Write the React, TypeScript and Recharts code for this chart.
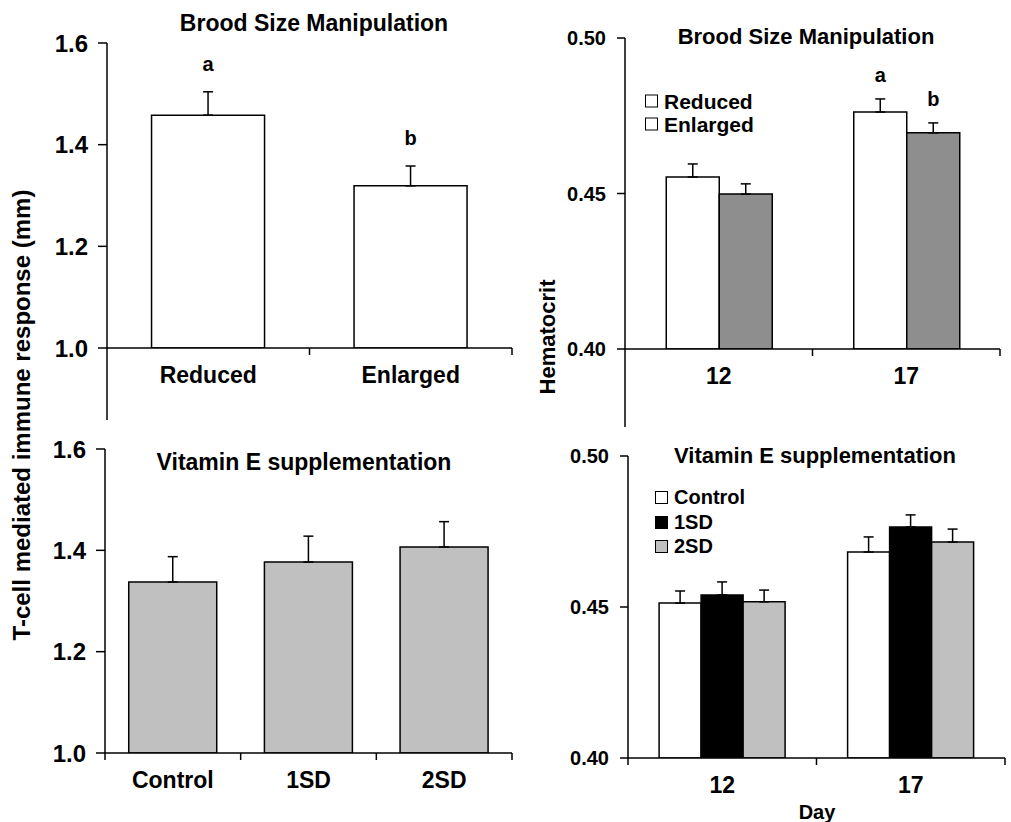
import React from "react";
import { BarChart, Bar, XAxis, YAxis, ErrorBar, LabelList } from "recharts";

const FONT = '"Liberation Sans", Arial, Helvetica, sans-serif';

// Brood size manipulation - T-cell response
const broodCats = ["Reduced", "Enlarged"];
const broodTcell = [1.458, 1.319];
const broodTcellErr = [0.046, 0.039];
const broodTcellSig = ["a", "b"];

// Brood size manipulation - hematocrit by day
const days = ["12", "17"];
const hctReduced = [0.4553, 0.4762];
const hctReducedErr = [0.0042, 0.0042];
const hctReducedSig = ["", "a"];
const hctEnlarged = [0.4498, 0.4695];
const hctEnlargedErr = [0.0033, 0.0032];
const hctEnlargedSig = ["", "b"];

// Vitamin E supplementation - T-cell response
const vitCats = ["Control", "1SD", "2SD"];
const vitTcell = [1.3375, 1.377, 1.4066];
const vitTcellErr = [0.05, 0.051, 0.05];

// Vitamin E supplementation - hematocrit by day
const vitHctControl = [0.4513, 0.4682];
const vitHctControlErr = [0.004, 0.005];
const vitHct1SD = [0.454, 0.4765];
const vitHct1SDErr = [0.0043, 0.004];
const vitHct2SD = [0.4517, 0.4715];
const vitHct2SDErr = [0.0039, 0.0043];

const tcellTicks = [1.0, 1.2, 1.4, 1.6];
const hctTicks = [0.4, 0.45, 0.5];

const Y_W = 100;
const M_TOP = 20;
const M_RIGHT = 15;
const X_H = 90;

type Series = {
  key: string;
  errKey: string;
  sigKey?: string;
  fill: string;
  errs: number[];
};

type PanelProps = {
  rows: any[];
  series: Series[];
  domain: [number, number];
  ticks: number[];
  fmt: (v: number) => string;
  left: number;
  top: number;
  plotW: number;
  plotH: number;
  gap: string;
  yFont: number;
  tickLen: number;
  tickMargin: number;
  axisExt: number;
  sigGap: number;
};

const makeTick = (n: number, plotW: number, plotBottom: number, firstLen: number) => (props: any) => {
  const { x, payload, index } = props;
  const half = plotW / n / 2;
  return (
    <g>
      <line
        x1={x - half}
        y1={plotBottom}
        x2={x - half}
        y2={plotBottom + (index === 0 ? firstLen : 7)}
        stroke="#000"
        strokeWidth={1.5}
      />
      {index === n - 1 && (
        <line x1={x + half} y1={plotBottom} x2={x + half} y2={plotBottom + 7} stroke="#000" strokeWidth={1.5} />
      )}
      <text
        x={x}
        y={plotBottom + 27}
        textAnchor="middle"
        dominantBaseline="central"
        fontFamily={FONT}
        fontWeight="bold"
        fontSize={23}
        fill="#000"
      >
        {payload.value}
      </text>
    </g>
  );
};

const makeSig = (errs: number[], pxPerUnit: number, gap: number) => (props: any) => {
  const vb = props.viewBox || {};
  const x = props.x ?? vb.x;
  const y = props.y ?? vb.y;
  const width = props.width ?? vb.width;
  const { value, index } = props;
  if (!value) return null;
  return (
    <text
      x={x + width / 2}
      y={y - errs[index] * pxPerUnit - gap}
      textAnchor="middle"
      dominantBaseline="central"
      fontFamily={FONT}
      fontWeight="bold"
      fontSize={20}
      fill="#000"
    >
      {value}
    </text>
  );
};

const Panel = (p: PanelProps) => {
  const plotBottom = M_TOP + p.plotH;
  const pxPerUnit = p.plotH / (p.domain[1] - p.domain[0]);
  return (
    <div style={{ position: "absolute", left: p.left - Y_W, top: p.top - M_TOP }}>
      <BarChart
        width={Y_W + p.plotW + M_RIGHT}
        height={M_TOP + p.plotH + X_H}
        data={p.rows}
        margin={{ top: M_TOP, right: M_RIGHT, left: 0, bottom: 0 }}
        barCategoryGap={p.gap}
        barGap={0}
      >
        <XAxis
          dataKey="cat"
          height={X_H}
          interval={0}
          tickLine={false}
          axisLine={{ stroke: "#000", strokeWidth: 1.5 }}
          tick={makeTick(p.rows.length, p.plotW, plotBottom, p.axisExt)}
        />
        <YAxis
          type="number"
          width={Y_W}
          domain={p.domain}
          ticks={p.ticks}
          interval={0}
          allowDataOverflow
          tickFormatter={p.fmt}
          tickSize={p.tickLen}
          tickMargin={p.tickMargin}
          axisLine={{ stroke: "#000", strokeWidth: 1.5 }}
          tickLine={{ stroke: "#000", strokeWidth: 1.5 }}
          tick={{ fontSize: p.yFont, fontWeight: "bold", fill: "#000", fontFamily: FONT }}
        />
        {p.series.map((s) => (
          <Bar key={s.key} dataKey={s.key} fill={s.fill} stroke="#000" strokeWidth={1.5} isAnimationActive={false}>
            <ErrorBar dataKey={s.errKey} width={5} stroke="#000" strokeWidth={1.5} direction="y" />
            {s.sigKey && <LabelList dataKey={s.sigKey} content={makeSig(s.errs, pxPerUnit, p.sigGap)} />}
          </Bar>
        ))}
      </BarChart>
    </div>
  );
};

const broodTcellRows = broodCats.map((c, i) => ({
  cat: c,
  v: broodTcell[i],
  e: [0, broodTcellErr[i]],
  s: broodTcellSig[i],
}));

const broodHctRows = days.map((d, i) => ({
  cat: d,
  red: hctReduced[i],
  redE: [0, hctReducedErr[i]],
  redS: hctReducedSig[i],
  enl: hctEnlarged[i],
  enlE: [0, hctEnlargedErr[i]],
  enlS: hctEnlargedSig[i],
}));

const vitTcellRows = vitCats.map((c, i) => ({
  cat: c,
  v: vitTcell[i],
  e: [0, vitTcellErr[i]],
}));

const vitHctRows = days.map((d, i) => ({
  cat: d,
  ctl: vitHctControl[i],
  ctlE: [0, vitHctControlErr[i]],
  sd1: vitHct1SD[i],
  sd1E: [0, vitHct1SDErr[i]],
  sd2: vitHct2SD[i],
  sd2E: [0, vitHct2SDErr[i]],
}));

const fmt1 = (v: number) => v.toFixed(1);
const fmt2 = (v: number) => v.toFixed(2);

const Txt = ({ x, y, size, children, rotate }: any) => (
  <div
    style={{
      position: "absolute",
      left: x,
      top: y,
      transform: `translate(-50%, -50%)${rotate ? " rotate(-90deg)" : ""}`,
      whiteSpace: "nowrap",
      fontSize: size,
      fontWeight: "bold",
      lineHeight: 1,
      fontFamily: FONT,
      color: "#000",
    }}
  >
    {children}
  </div>
);

const LegendItem = ({ x, y, fill, label, size }: any) => (
  <div
    style={{
      position: "absolute",
      left: x,
      top: y,
      transform: "translateY(-50%)",
      display: "flex",
      alignItems: "center",
      fontFamily: FONT,
      fontWeight: "bold",
      fontSize: size,
      lineHeight: 1,
      whiteSpace: "nowrap",
    }}
  >
    <span
      style={{
        display: "inline-block",
        width: 11,
        height: 11,
        border: "1.5px solid #000",
        background: fill,
        marginRight: 6,
      }}
    />
    {label}
  </div>
);

export default function App() {
  return (
    <div style={{ position: "relative", width: 1011, height: 822, background: "#fff", overflow: "hidden" }}>
      <style>{"body{margin:0}"}</style>

      <Panel
        rows={broodTcellRows}
        series={[{ key: "v", errKey: "e", sigKey: "s", fill: "#ffffff", errs: broodTcellErr }]}
        domain={[1.0, 1.6]}
        ticks={tcellTicks}
        fmt={fmt1}
        left={107}
        top={43}
        plotW={405}
        plotH={305}
        gap="22%"
        yFont={24}
        tickLen={9}
        tickMargin={10}
        axisExt={72}
        sigGap={28}
      />

      <Panel
        rows={broodHctRows}
        series={[
          { key: "red", errKey: "redE", sigKey: "redS", fill: "#ffffff", errs: hctReducedErr },
          { key: "enl", errKey: "enlE", sigKey: "enlS", fill: "#8e8e8e", errs: hctEnlargedErr },
        ]}
        domain={[0.4, 0.5]}
        ticks={hctTicks}
        fmt={fmt2}
        left={625}
        top={38}
        plotW={375}
        plotH={311}
        gap="22%"
        yFont={20}
        tickLen={8}
        tickMargin={11}
        axisExt={78}
        sigGap={24}
      />

      <Panel
        rows={vitTcellRows}
        series={[{ key: "v", errKey: "e", fill: "#c0c0c0", errs: vitTcellErr }]}
        domain={[1.0, 1.6]}
        ticks={tcellTicks}
        fmt={fmt1}
        left={105}
        top={449}
        plotW={407}
        plotH={304}
        gap="17.5%"
        yFont={24}
        tickLen={9}
        tickMargin={10}
        axisExt={7}
        sigGap={24}
      />

      <Panel
        rows={vitHctRows}
        series={[
          { key: "ctl", errKey: "ctlE", fill: "#ffffff", errs: vitHctControlErr },
          { key: "sd1", errKey: "sd1E", fill: "#000000", errs: vitHct1SDErr },
          { key: "sd2", errKey: "sd2E", fill: "#c0c0c0", errs: vitHct2SDErr },
        ]}
        domain={[0.4, 0.5]}
        ticks={hctTicks}
        fmt={fmt2}
        left={628}
        top={456}
        plotW={377}
        plotH={302}
        gap="16.5%"
        yFont={20}
        tickLen={8}
        tickMargin={11}
        axisExt={7}
        sigGap={24}
      />

      <Txt x={314} y={23} size={23}>Brood Size Manipulation</Txt>
      <Txt x={806} y={37} size={22}>Brood Size Manipulation</Txt>
      <Txt x={304} y={462} size={23}>Vitamin E supplementation</Txt>
      <Txt x={815} y={456} size={22}>Vitamin E supplementation</Txt>

      <Txt x={22} y={415} size={24} rotate>T-cell mediated immune response (mm)</Txt>
      <Txt x={548} y={337} size={22} rotate>Hematocrit</Txt>
      <Txt x={817} y={812} size={20}>Day</Txt>

      <LegendItem x={645} y={101} fill="#ffffff" label="Reduced" size={21} />
      <LegendItem x={645} y={124} fill="#ffffff" label="Enlarged" size={21} />

      <LegendItem x={655} y={497} fill="#ffffff" label="Control" size={20} />
      <LegendItem x={655} y={522} fill="#000000" label="1SD" size={20} />
      <LegendItem x={655} y={546} fill="#c0c0c0" label="2SD" size={20} />
    </div>
  );
}
